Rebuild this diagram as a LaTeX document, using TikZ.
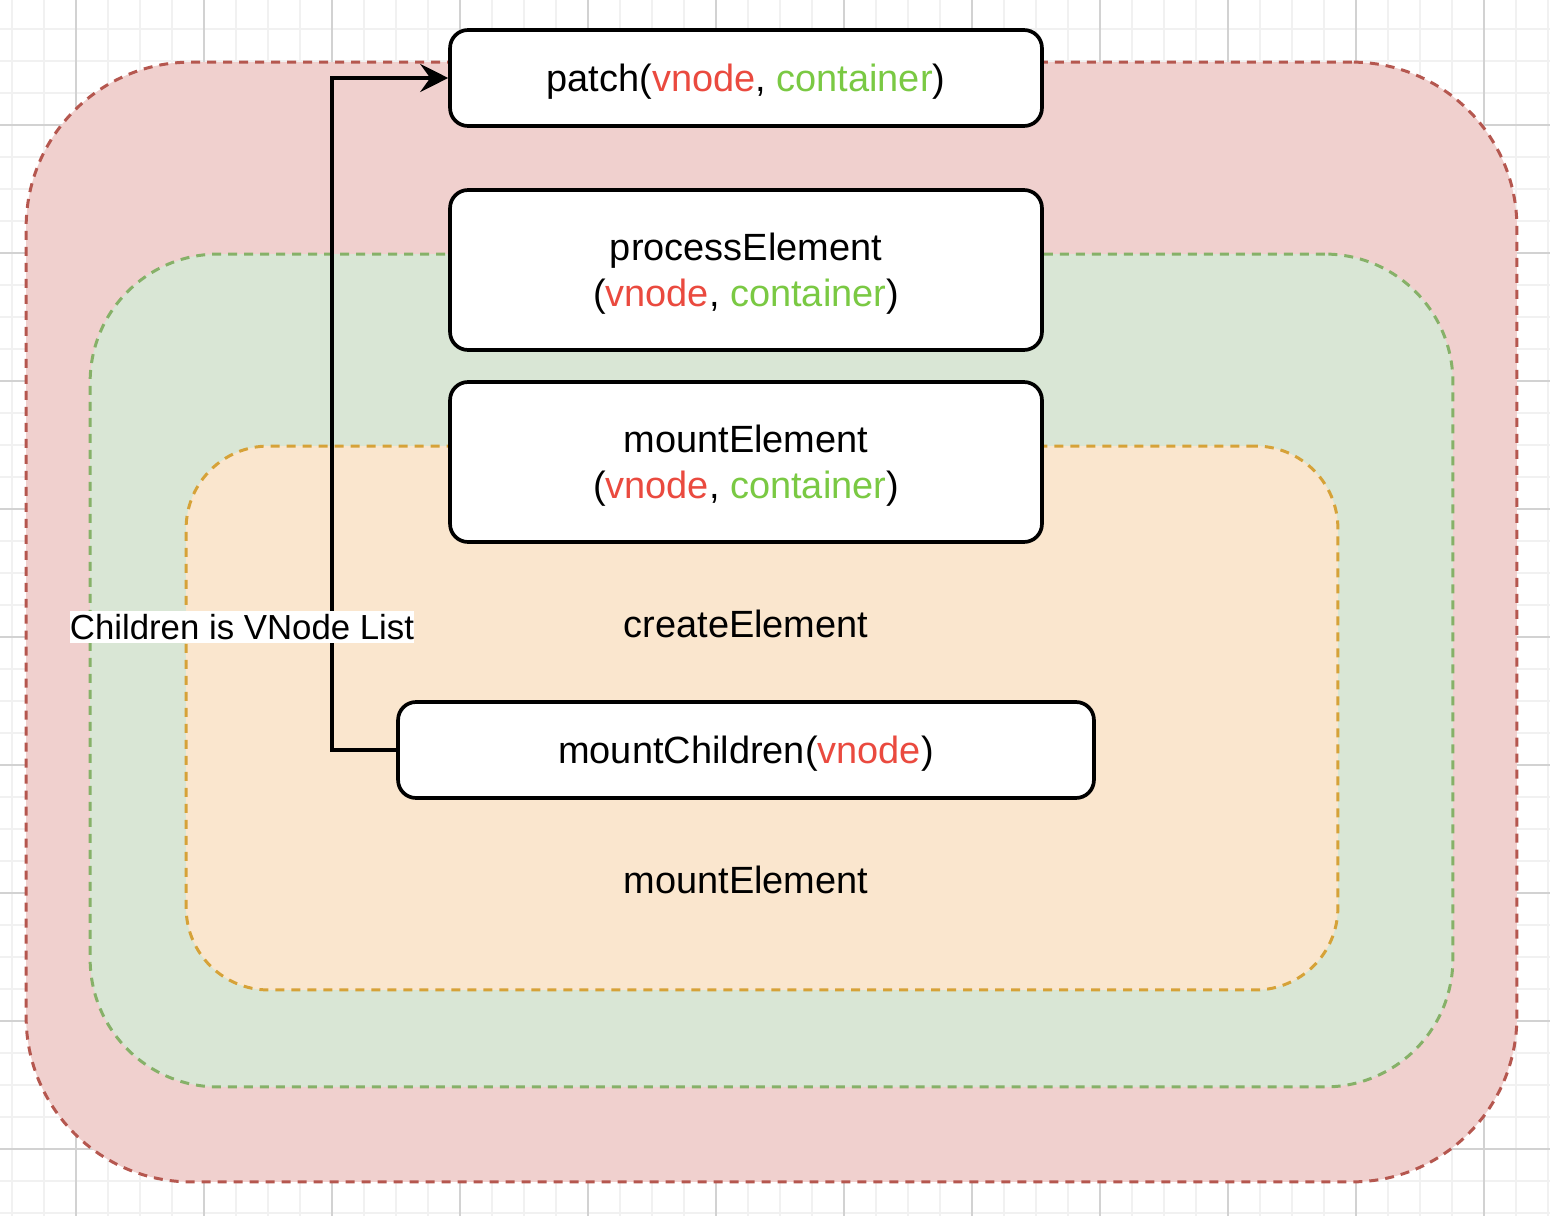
\documentclass[tikz,border=0pt]{standalone}
\usepackage{fontspec}
\setmainfont{Liberation Sans}
\usepackage{xcolor}
\usepackage{tikz}
\usetikzlibrary{arrows.meta,positioning}
\definecolor{GridLight}{HTML}{F1F1F1}
\definecolor{GridDark}{HTML}{D2D2D2}
\definecolor{RedFill}{HTML}{F0D0CE}
\definecolor{RedLine}{HTML}{B5574F}
\definecolor{GreenFill}{HTML}{D9E6D5}
\definecolor{GreenLine}{HTML}{86B168}
\definecolor{OrangeFill}{HTML}{FAE6CE}
\definecolor{OrangeLine}{HTML}{D6A238}
\definecolor{ArgRed}{HTML}{EA4A3F}
\definecolor{ArgGreen}{HTML}{7AC943}
\newcommand{\vn}{\textcolor{ArgRed}{vnode}}
\newcommand{\ct}{\textcolor{ArgGreen}{container}}

\begin{document}
\begin{tikzpicture}[x=0.02cm,y=-0.02cm,
  zone/.style={draw,line width=1.7pt,dash pattern=on 0.18cm off 0.14cm,inner sep=0pt},
  fnbox/.style={draw=black,line width=2.1pt,fill=white,rounded corners=0.36cm,align=center,minimum width=11.84cm,text depth=0pt,font=\fontsize{21.6}{26.2}\selectfont},
  caption/.style={font=\fontsize{21.6}{26.2}\selectfont},
  flow/.style={-{Stealth[length=0.56cm,width=0.56cm,inset=0.2cm]},line width=2pt}]
  \useasboundingbox (0,0) rectangle (1550,1216);
  % grid
  \foreach \gx in {12,44,...,1548} \draw[GridLight,line width=1.1pt] (\gx,0) -- (\gx,1216);
  \foreach \gy in {29,61,...,1213} \draw[GridLight,line width=1.1pt] (0,\gy) -- (1550,\gy);
  \foreach \gx in {76,204,...,1484} \draw[GridDark,line width=0.6pt] (\gx,0) -- (\gx,1216);
  \foreach \gy in {125,253,...,1149} \draw[GridDark,line width=0.6pt] (0,\gy) -- (1550,\gy);
  % nested areas
  \node[zone,draw=RedLine,fill=RedFill,rounded corners=3.3cm,minimum width=29.82cm,minimum height=22.4cm] (patcharea) at (771.5,622) {};
  \node[zone,draw=GreenLine,fill=GreenFill,rounded corners=2.56cm,minimum width=27.26cm,minimum height=16.66cm] (processarea) at (771.5,670.5) {};
  \node[zone,draw=OrangeLine,fill=OrangeFill,rounded corners=1.65cm,minimum width=23.04cm,minimum height=10.88cm] (mountarea) at (762,718) {};
  \node[caption] (create) at (746,624) {createElement};
  \node[caption] (mount) at (746,880) {mountElement};
  % functions
  \node[fnbox,minimum height=1.92cm] (patch) at (746,78) {patch(\vn, \ct)};
  \node[fnbox,minimum height=3.2cm] (process) at (746,270) {processElement\\(\vn, \ct)};
  \node[fnbox,minimum height=3.2cm] (mountel) at (746,462) {mountElement\\(\vn, \ct)};
  \node[fnbox,minimum width=13.92cm,minimum height=1.92cm] (children) at (746,750) {mountChildren(\vn)};
  \draw[flow] (children.west) -- ++(-64,0) coordinate (turn) |- (patch.west);
  \node[caption,font=\fontsize{19.8}{24}\selectfont,fill=white,inner xsep=0pt,inner ysep=2pt] (listlabel) at (242,627) {Children is VNode List};
\end{tikzpicture}
\end{document}
